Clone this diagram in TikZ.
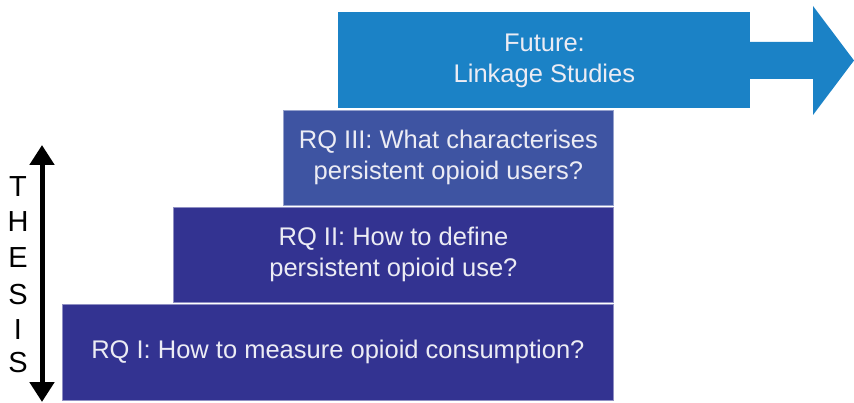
\documentclass[tikz,border=0pt]{standalone}
\usepackage{fontspec}
\setmainfont{Liberation Sans}
\usetikzlibrary{arrows.meta}
\definecolor{rqdark}{RGB}{51,51,145}
\definecolor{rqmid}{RGB}{62,84,162}
\definecolor{future}{RGB}{27,130,198}
\definecolor{txt}{RGB}{236,236,244}
\tikzset{
  x=1pt, y=-1pt,
  stepbox/.style={draw=#1!55!white, line width=0.8pt, fill=#1, text=txt,
    inner sep=0pt, align=center, font=\fontsize{25.5}{31}\selectfont},
  thesisletter/.style={font=\fontsize{29}{29}\selectfont, text=black, inner sep=0pt},
}
\begin{document}
\begin{tikzpicture}
\useasboundingbox (0,0) rectangle (854,403);
% staircase of research questions
\node[stepbox=rqdark, minimum width=551pt, minimum height=96pt, anchor=north west]
  (rq1) at (62,304) {RQ I: How to measure opioid consumption?};
\node[stepbox=rqdark, minimum width=440pt, minimum height=95pt, anchor=north west]
  (rq2) at (173,207) {RQ II: How to define\\persistent opioid use?};
\node[stepbox=rqmid, minimum width=330pt, minimum height=95pt, anchor=north west]
  (rq3) at (283,110) {RQ III: What characterises\\persistent opioid users?};
% future work box with outgoing arrow
\fill[future] (750,42) -- (813,42) -- (813,6) -- (854,60.5) -- (813,115) -- (813,79) -- (750,79) -- cycle;
\node[stepbox=future, draw=none, minimum width=412pt, minimum height=96pt, anchor=north west]
  (fut) at (338,12) {Future:\\Linkage Studies};
% thesis span arrow
\coordinate (ttop) at (42,145);
\coordinate (tbot) at (42,402);
\draw[line width=5pt, {Triangle[width=24pt,length=20pt]}-{Triangle[width=24pt,length=20pt]}] (ttop) -- (tbot);
\node[thesisletter] (l1) at (18,187) {T};
\node[thesisletter] (l2) at (18,222) {H};
\node[thesisletter] (l3) at (18,258) {E};
\node[thesisletter] (l4) at (18,295) {S};
\node[thesisletter] (l5) at (18,330) {I};
\node[thesisletter] (l6) at (18,363) {S};
\end{tikzpicture}
\end{document}
